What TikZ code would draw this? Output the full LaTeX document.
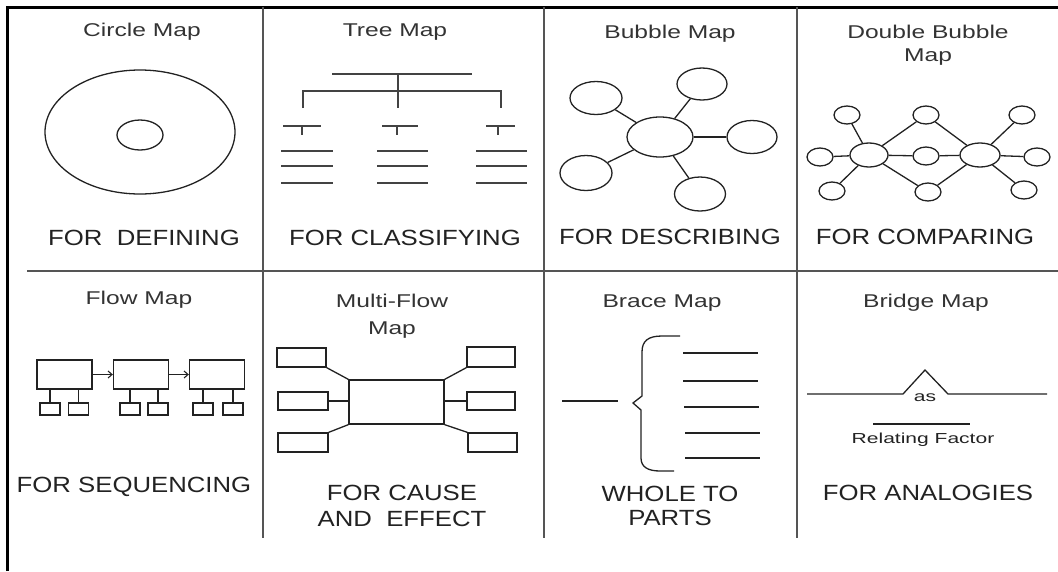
\documentclass[tikz,border=0pt]{standalone}
\usepackage{fontspec}
\setmainfont{Liberation Sans}
\newfontfamily\ttlfont[FakeStretch=1.33]{Liberation Sans}
\newfontfamily\lblfont[FakeStretch=1.17]{Liberation Sans}
\newfontfamily\smlfont[FakeStretch=1.45]{Liberation Sans}
\usetikzlibrary{shapes.geometric,arrows.meta}
\definecolor{ink}{HTML}{222222}
\definecolor{rulegray}{HTML}{555555}
\definecolor{titlegray}{HTML}{333333}

\begin{document}
\begin{tikzpicture}[x=1pt,y=-1pt,
  frame/.style={line width=3pt,black},
  divider/.style={line width=2pt,rulegray},
  shapeline/.style={line width=1.3pt,ink},
  treeline/.style={line width=1.8pt,ink!85},
  title/.style={font=\ttlfont\fontsize{18.5}{23}\selectfont,text=titlegray,inner sep=0pt,align=center},
  label/.style={font=\lblfont\fontsize{22}{26}\selectfont,text=ink,inner sep=0pt,align=center},
  small/.style={font=\smlfont\fontsize{14.5}{16}\selectfont,text=ink,inner sep=0pt},
  bub/.style={ellipse,draw=ink,line width=1.3pt,inner sep=0pt},
  sbub/.style={bub,minimum width=26pt,minimum height=18pt},
  box/.style={rectangle,draw=ink,line width=1.3pt,inner sep=0pt},
  link/.style={line width=1.3pt,ink},
  flowarrow/.style={line width=1.1pt,ink,-{Straight Barb[length=4pt,width=7pt]}}
]
\useasboundingbox (0,0) rectangle (1058,571);

% outer frame (top and left) and the grid
\draw[frame] (7,571) -- (7,7) -- (1058,7);
\draw[divider] (27,271) -- (1058,271);
\foreach \gx in {263,544,797} \draw[divider] (\gx,7) -- (\gx,538);

% ---------- Circle Map ----------
\node[title] (t1) at (142,32) {Circle Map};
\draw[shapeline] (140,132) ellipse [x radius=95pt, y radius=62pt];
\draw[shapeline] (140,135) ellipse [x radius=23pt, y radius=15pt];
\node[label] (l1) at (144,238) {FOR\ \ DEFINING};

% ---------- Tree Map ----------
\node[title] (t2) at (395,32) {Tree Map};
\draw[treeline] (332,74) -- (472,74);
\draw[treeline] (398,74) -- (398,108);
\draw[treeline] (303,108) -- (303,91) -- (501,91) -- (501,108);
\foreach \cx/\lx/\rx in {302/283/321, 397/382/418, 498/486/515}{
  \draw[treeline] (\lx,126) -- (\rx,126);
  \draw[treeline] (\cx,126) -- (\cx,135);
}
\foreach \ly in {151,166,183}{
  \draw[treeline] (281,\ly) -- (333,\ly);
  \draw[treeline] (377,\ly) -- (428,\ly);
  \draw[treeline] (476,\ly) -- (527,\ly);
}
\node[label] (l2) at (405,238) {FOR CLASSIFYING};

% ---------- Bubble Map ----------
\node[title] (t3) at (670,34) {Bubble Map};
\node[bub,minimum width=66pt,minimum height=40pt] (bc) at (660,137) {};
\node[bub,minimum width=52pt,minimum height=33pt] (b1) at (596,98) {};
\node[bub,minimum width=50pt,minimum height=32pt] (b2) at (702,84) {};
\node[bub,minimum width=50pt,minimum height=33pt] (b3) at (752,137) {};
\node[bub,minimum width=52pt,minimum height=35pt] (b4) at (586,173) {};
\node[bub,minimum width=51pt,minimum height=34pt] (b5) at (700,194) {};
\foreach \b in {b1,b2,b3,b4,b5} \draw[link] (bc) -- (\b);
\node[label] (l3) at (670,237) {FOR DESCRIBING};

% ---------- Double Bubble Map ----------
\node[title] (t4) at (928,45) {Double Bubble\\Map};
\node[bub,minimum width=38pt,minimum height=24pt] (dl) at (869,155) {};
\node[bub,minimum width=40pt,minimum height=24pt] (dr) at (980,155) {};
\node[sbub] (dtm) at (926,115) {};
\node[sbub] (dm)  at (926,156) {};
\node[sbub] (dbm) at (928,192) {};
\node[sbub] (dtl) at (847,115) {};
\node[sbub] (dL)  at (820,157) {};
\node[sbub] (dbl) at (832,191) {};
\node[sbub] (dtr) at (1022,115) {};
\node[sbub] (dR)  at (1037,157) {};
\node[sbub] (dbr) at (1024,190) {};
\foreach \b in {dtl,dL,dbl,dtm,dm,dbm} \draw[link] (dl) -- (\b);
\foreach \b in {dtr,dR,dbr,dtm,dm,dbm} \draw[link] (dr) -- (\b);
\node[label] (l4) at (925,237) {FOR COMPARING};

% ---------- Flow Map ----------
\node[title] (t5) at (139,300) {Flow Map};
\foreach \n/\cx/\sa/\sb in {1/64.5/50/78.5, 2/141/130/158, 3/217/203/233}{
  \node[box,minimum width=55pt,minimum height=29pt] (f\n) at (\cx,374.5) {};
  \node[box,minimum width=20pt,minimum height=12pt] (f\n a) at (\sa,409) {};
  \node[box,minimum width=20pt,minimum height=12pt] (f\n b) at (\sb,409) {};
  \draw[link] (f\n a.north) -- (f\n a.north |- f\n.south);
  \draw[link] (f\n b.north) -- (f\n b.north |- f\n.south);
}
\draw[flowarrow] (f1.east) -- (f2.west);
\draw[flowarrow] (f2.east) -- (f3.west);
\node[label] (l5) at (134,487) {FOR SEQUENCING};

% ---------- Multi-Flow Map ----------
\node[title,font=\ttlfont\fontsize{18.5}{27}\selectfont] (t6) at (392,316) {Multi-Flow\\Map};
\node[box,minimum width=95pt,minimum height=44pt] (mc) at (396.5,402) {};
\node[box,minimum width=49pt,minimum height=19pt] (ml1) at (301.5,357.5) {};
\node[box,minimum width=50pt,minimum height=18pt] (ml2) at (303,401) {};
\node[box,minimum width=50pt,minimum height=19pt] (ml3) at (303,442.5) {};
\node[box,minimum width=48pt,minimum height=20pt] (mr1) at (491,357) {};
\node[box,minimum width=48pt,minimum height=18pt] (mr2) at (491,401) {};
\node[box,minimum width=49pt,minimum height=19pt] (mr3) at (492.5,442.5) {};
\draw[link] (ml1.south east) -- (mc.north west);
\draw[link] (ml2.east) -- (ml2.east -| mc.west);
\draw[link] (ml3.north east) -- (mc.south west);
\draw[link] (mr1.south west) -- (mc.north east);
\draw[link] (mr2.west) -- (mr2.west -| mc.east);
\draw[link] (mr3.north west) -- (mc.south east);
\node[label] (l6) at (402,506) {FOR CAUSE\\AND\ \ EFFECT};

% ---------- Brace Map ----------
\node[title] (t7) at (662,303) {Brace Map};
\draw[shapeline] (562,401) -- (618,401);
\draw[shapeline] (680,336) -- (662,336)
  .. controls (648,336) and (642,341) .. (642,352) -- (642,396)
  -- (633,403) -- (641,410) -- (641,458)
  .. controls (641,467) and (648,471) .. (660,471) -- (674,471);
\foreach \ly/\lx in {353/683,381/683,407/684,433/685,458/685}
  \draw[shapeline] (\lx,\ly) -- ++(75,0);
\node[label,font=\lblfont\fontsize{22}{24}\selectfont] (l7) at (670,506) {WHOLE TO\\PARTS};

% ---------- Bridge Map ----------
\node[title] (t8) at (926,303) {Bridge Map};
\draw[shapeline] (807,394) -- (903,394) -- (925,370) -- (948,394) -- (1047,394);
\node[small] (as) at (925,398) {as};
\draw[shapeline] (873,424) -- (970,424);
\node[small] (rf) at (923,440) {Relating Factor};
\node[label] (l8) at (928,493) {FOR ANALOGIES};
\end{tikzpicture}
\end{document}
